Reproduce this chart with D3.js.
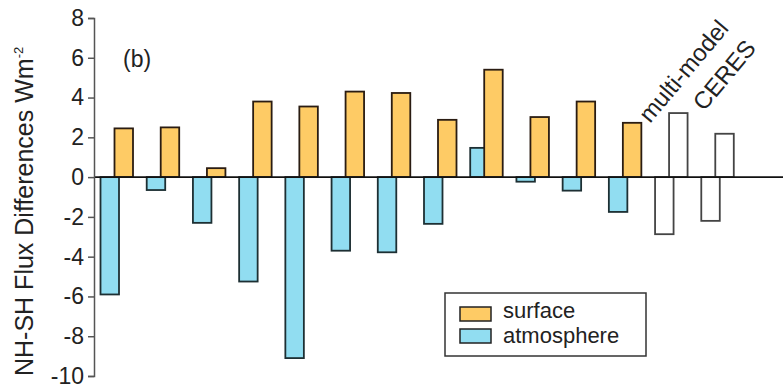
<!DOCTYPE html>
<html>
<head>
<meta charset="utf-8">
<script src="https://cdn.jsdelivr.net/npm/d3@7"></script>
<style>
  html, body { margin: 0; padding: 0; background: #fff; }
  svg { display: block; }
  text { font-family: "Liberation Sans", Arial, Helvetica, sans-serif; fill: #222; }
</style>
</head>
<body>
<svg id="chart" width="783" height="392"></svg>
<script>
// ---- data ----
const categories = ["m1","m2","m3","m4","m5","m6","m7","m8","m9","m10","m11","m12","multi-model","CERES"];
const surface    = [2.45, 2.5, 0.45, 3.8, 3.55, 4.3, 4.23, 2.88, 5.4, 3.02, 3.8, 2.73, 3.22, 2.18];
const atmosphere = [-5.9, -0.65, -2.3, -5.25, -9.1, -3.7, -3.78, -2.35, 1.47, -0.23, -0.68, -1.75, -2.87, -2.2];
const yTicks = [-10, -8, -6, -4, -2, 0, 2, 4, 6, 8];
const labeled = ["multi-model", "CERES"];
const legendItems = [{name: "surface", key: "surface"}, {name: "atmosphere", key: "atmosphere"}];

// ---- styles ----
const colors = { surface: "#FECB65", atmosphere: "#91DDF1" };
const font = '"Liberation Sans", Arial, Helvetica, sans-serif';

const svg = d3.select("#chart");
const axisX = 94;

const y = d3.scaleLinear().domain([-10, 8]).range([376, 18]);
const x = d3.scaleBand().domain(categories).range([99.5, 746.5]).padding(0);

const atmOff = 1, surfOff = 15, barW = 18.5;

const g = svg.append("g");

// atmosphere bars (drawn first)
g.selectAll("rect.atm").data(categories).join("rect")
  .attr("class", "atm")
  .attr("x", (d) => x(d) + atmOff)
  .attr("width", barW)
  .attr("y", (d, i) => y(Math.max(0, atmosphere[i])))
  .attr("height", (d, i) => Math.abs(y(atmosphere[i]) - y(0)))
  .attr("fill", (d) => labeled.includes(d) ? "#fff" : colors.atmosphere)
  .attr("stroke", (d) => labeled.includes(d) ? "#444" : "#1d2f33")
  .attr("stroke-width", 1.8);

// surface bars
g.selectAll("rect.surf").data(categories).join("rect")
  .attr("class", "surf")
  .attr("x", (d) => x(d) + surfOff)
  .attr("width", barW)
  .attr("y", (d, i) => y(Math.max(0, surface[i])))
  .attr("height", (d, i) => Math.abs(y(surface[i]) - y(0)))
  .attr("fill", (d) => labeled.includes(d) ? "#fff" : colors.surface)
  .attr("stroke", (d) => labeled.includes(d) ? "#444" : "#2a1c12")
  .attr("stroke-width", 1.8);

// zero line
g.append("line")
  .attr("x1", axisX).attr("x2", 783)
  .attr("y1", y(0)).attr("y2", y(0))
  .attr("stroke", "#111").attr("stroke-width", 1.8);

// y axis
const yAxis = d3.axisLeft(y).tickValues(yTicks).tickSize(6).tickPadding(4).tickFormat(d3.format("d"));
const ya = svg.append("g").attr("transform", `translate(${axisX},0)`).call(yAxis);
ya.select(".domain").attr("stroke", "#555").attr("stroke-width", 1.5);
ya.selectAll(".tick line").attr("stroke", "#555").attr("stroke-width", 1.5);
ya.selectAll(".tick text").attr("font-family", font).attr("font-size", 23).attr("fill", "#222")
  .text((d) => d < 0 ? "-" + Math.abs(d) : d);

// y title
const yt = svg.append("text")
  .attr("transform", `translate(33,376) rotate(-90)`)
  .attr("font-size", 25)
  .attr("text-anchor", "start");
yt.append("tspan").text("NH-SH Flux Differences Wm");
yt.append("tspan").attr("dy", -10).attr("font-size", 13).text("-2");

// panel label
svg.append("text").attr("x", 123).attr("y", 67).attr("font-size", 23).text("(b)");

// rotated group labels
const labelPos = { "multi-model": [650, 124], "CERES": [704, 112] };
labeled.forEach((name) => {
  svg.append("text")
    .attr("transform", `translate(${labelPos[name][0]},${labelPos[name][1]}) rotate(-50)`)
    .attr("font-size", 24)
    .text(name);
});

// legend
const lg = svg.append("g");
lg.append("rect").attr("x", 445).attr("y", 293).attr("width", 201).attr("height", 63)
  .attr("fill", "#fff").attr("stroke", "#333").attr("stroke-width", 1.5);
legendItems.forEach((it, i) => {
  lg.append("rect").attr("x", 460).attr("y", 307 + i * 22).attr("width", 31).attr("height", 14)
    .attr("fill", colors[it.key]).attr("stroke", "#222").attr("stroke-width", 1.5);
  lg.append("text").attr("x", 503).attr("y", 317.5 + i * 25).attr("font-size", 22).text(it.name);
});
</script>
</body>
</html>
